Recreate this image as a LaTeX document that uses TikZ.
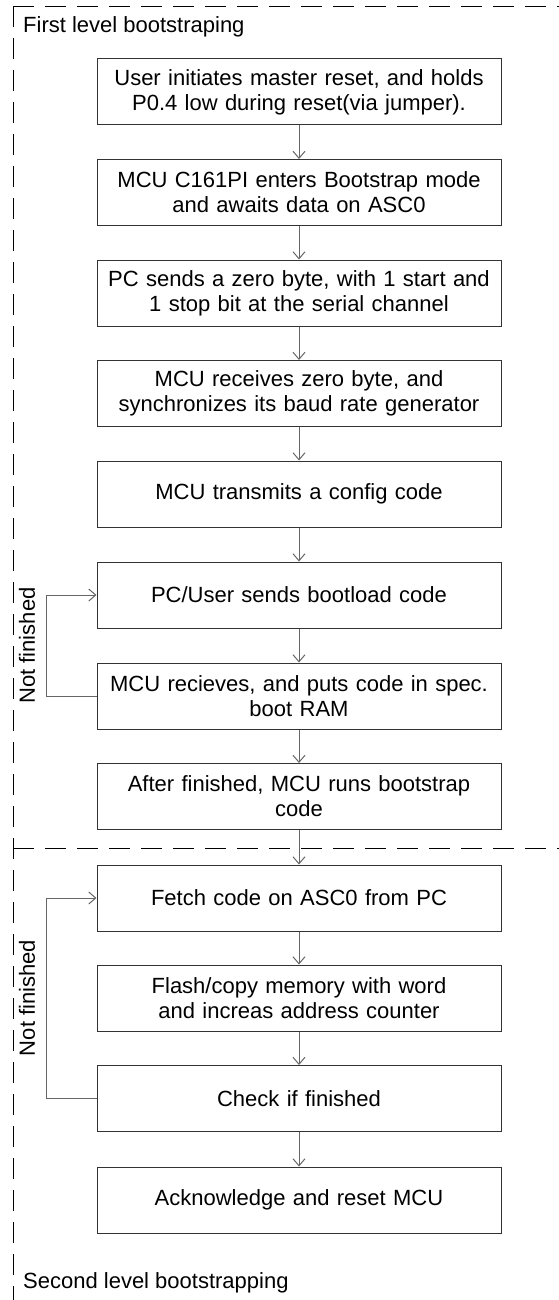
\documentclass[tikz,border=0pt]{standalone}
\usepackage{fontspec}
\setmainfont{Liberation Sans}
\usetikzlibrary{arrows.meta}
\definecolor{boxline}{HTML}{333333}
\definecolor{arrowgray}{HTML}{666666}
\begin{document}
\begin{tikzpicture}[x=1pt,y=-1pt,
  stepbox/.style={draw=boxline, line width=1pt, minimum width=404pt, minimum height=66pt,
    text width=392pt, align=center, inner sep=0pt, font=\fontsize{22}{25}\selectfont},
  flow/.style={draw=arrowgray, line width=1pt, -{Straight Barb[length=7pt,width=12pt]}},
  frameline/.style={draw=black, line width=0.8pt, dash pattern=on 21pt off 11pt},
  caption/.style={font=\fontsize{22}{25}\selectfont, inner sep=0pt}]
\useasboundingbox[fill=white] (0,0) rectangle (559,1300);

% dashed frame of the two stages
\coordinate (tl) at (13,6);
\coordinate (tr) at (559,6);
\coordinate (ml) at (13,848);
\coordinate (mr) at (559,848);
\coordinate (bl) at (13,1300);
\draw[frameline] (tl) -- (tr);
\draw[frameline] (tl) -- (bl);
\draw[frameline] (ml) -- (mr);

\node[caption, anchor=west] (first) at (23,27) {First level bootstraping};
\node[caption, anchor=west] (second) at (23,1283) {Second level bootstrapping};

% first level
\node[stepbox] (b1) at (299,92) {User initiates master reset, and holds\\P0.4 low during reset(via jumper).};
\node[stepbox] (b2) at (299,192.5) {MCU C161PI enters Bootstrap mode\\and awaits data on ASC0};
\node[stepbox] (b3) at (299,293) {PC sends a zero byte, with 1 start and\\1 stop bit at the serial channel};
\node[stepbox] (b4) at (299,393.5) {MCU receives zero byte, and\\synchronizes its baud rate generator};
\node[stepbox] (b5) at (299,494) {MCU transmits a config code};
\node[stepbox] (b6) at (299,595) {PC/User sends bootload code};
\node[stepbox] (b7) at (299,696) {MCU recieves, and puts code in spec.\\boot RAM};
\node[stepbox] (b8) at (299,796.5) {After finished, MCU runs bootstrap\\code};

% second level
\node[stepbox] (b9) at (299,898) {Fetch code on ASC0 from PC};
\node[stepbox] (b10) at (299,998) {Flash/copy memory with word\\and increas address counter};
\node[stepbox] (b11) at (299,1098.5) {Check if finished};
\node[stepbox] (b12) at (299,1200) {Acknowledge and reset MCU};

\foreach \a/\b in {b1/b2,b2/b3,b3/b4,b4/b5,b5/b6,b6/b7,b7/b8,b8/b9,b9/b10,b10/b11,b11/b12}
  \draw[flow] (\a.south) -- (\b.north);

% repeat loops
\draw[flow] (b7.west) -- ++(-50,0) |- (b6.west);
\draw[flow] (b11.west) -- ++(-50,0) |- (b9.west);
\node[caption, rotate=90] (nf1) at (27,645.5) {Not finished};
\node[caption, rotate=90] (nf2) at (27,998) {Not finished};
\end{tikzpicture}
\end{document}
